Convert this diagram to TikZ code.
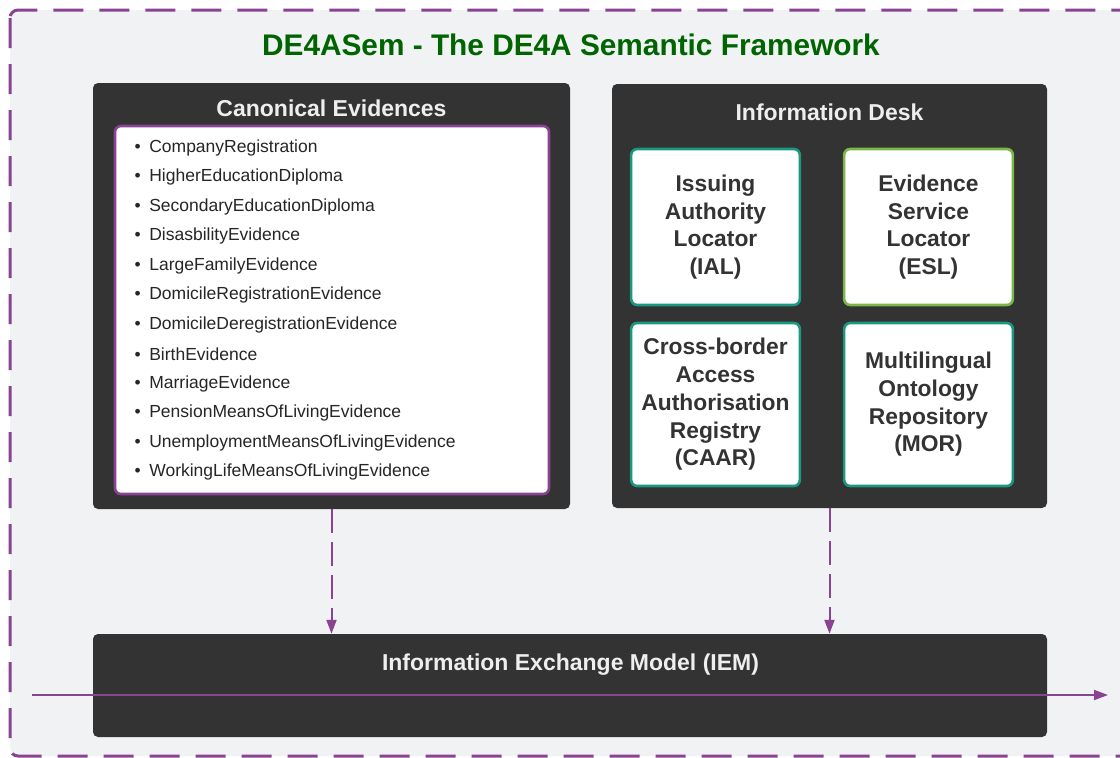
\documentclass[tikz,border=0pt]{standalone}
\usepackage{fontspec}
\setmainfont{Liberation Sans}
\usetikzlibrary{arrows.meta}
\definecolor{bgc}{RGB}{241,242,244}
\definecolor{darkbox}{RGB}{51,51,51}
\definecolor{purp}{RGB}{137,67,146}
\definecolor{titlegreen}{RGB}{0,100,0}
\definecolor{tealc}{RGB}{26,152,128}
\definecolor{greenc}{RGB}{122,182,72}
\definecolor{txtc}{RGB}{51,51,51}
\definecolor{headc}{RGB}{238,238,238}
\tikzset{
  darkpanel/.style={draw=none, fill=darkbox, rounded corners=5pt, minimum width=#1},
  headtext/.style={text=headc, font=\fontsize{23}{27}\selectfont\bfseries, inner sep=0pt},
  innerbox/.style={draw=#1, line width=2.6pt, fill=white, rounded corners=6pt,
     minimum width=165pt, text width=162pt, align=center, text=txtc,
     font=\fontsize{22.8}{27.7}\selectfont\bfseries},
  itemtext/.style={anchor=west, inner sep=0pt, font=\fontsize{17.5}{20}\selectfont, text=black!85},
  flow/.style={draw=purp, line width=2pt, -{Triangle[length=14pt,width=10pt]}},
}
\begin{document}
\begin{tikzpicture}[x=1pt,y=-1pt]
\useasboundingbox (0,0) rectangle (1120,758);
\begin{scope}
\clip (0,0) rectangle (1120,758);
\draw[draw=purp, fill=bgc, line width=3pt, rounded corners=8pt, dash pattern=on 30pt off 16pt]
  (10,10) rectangle (1150,756);
\end{scope}
\node[text=titlegreen, font=\fontsize{29.8}{34}\selectfont\bfseries, inner sep=0pt] (title) at (571,45) {DE4ASem - The DE4A Semantic Framework};
% Canonical Evidences
\node[darkpanel=477pt, minimum height=426pt] (canon) at (331.5,296) {};
\node[headtext] (canontitle) at (331.5,108) {Canonical Evidences};
\node[draw=purp, line width=2.6pt, fill=white, rounded corners=6pt, minimum width=434pt, minimum height=368pt] (list) at (332,310) {};
\foreach \t [count=\i] in {CompanyRegistration,HigherEducationDiploma,SecondaryEducationDiploma,DisasbilityEvidence,LargeFamilyEvidence,DomicileRegistrationEvidence,DomicileDeregistrationEvidence,BirthEvidence,MarriageEvidence,PensionMeansOfLivingEvidence,UnemploymentMeansOfLivingEvidence,WorkingLifeMeansOfLivingEvidence}
  \node[itemtext] (item\i) at (134.5,{148+(\i-1)*29.45}) {\textbullet\hspace{8.5pt}\t};
% Information Desk
\node[darkpanel=435pt, minimum height=424pt] (desk) at (829.5,296) {};
\node[headtext] (desktitle) at (829.5,112) {Information Desk};
\node[innerbox=tealc, minimum height=156pt] (ial) at (715.5,227) {Issuing\\Authority\\Locator\\(IAL)};
\node[innerbox=greenc, minimum height=156pt] (esl) at (928.5,227) {Evidence\\Service\\Locator\\(ESL)};
\node[innerbox=tealc, minimum height=163pt] (caar) at (715.5,404.5) {Cross-border\\Access\\Authorisation\\Registry\\(CAAR)};
\node[innerbox=tealc, minimum height=163pt] (mor) at (928.5,404.5) {Multilingual\\Ontology\\Repository\\(MOR)};
% IEM
\node[darkpanel=954pt, minimum height=103pt] (iem) at (570,685.5) {};
\node[headtext] (iemtitle) at (570.5,664.5) {Information Exchange Model (IEM)};
% connectors
\draw[flow, dash pattern=on 24pt off 9pt] (canon.south) -- (canon.south |- iem.north);
\draw[flow, dash pattern=on 24pt off 9pt] (desk.south) -- (desk.south |- iem.north);
\coordinate (hstart) at (32,695);
\coordinate (hend) at (1108,695);
\draw[flow] (hstart) -- (hend);
\end{tikzpicture}
\end{document}
